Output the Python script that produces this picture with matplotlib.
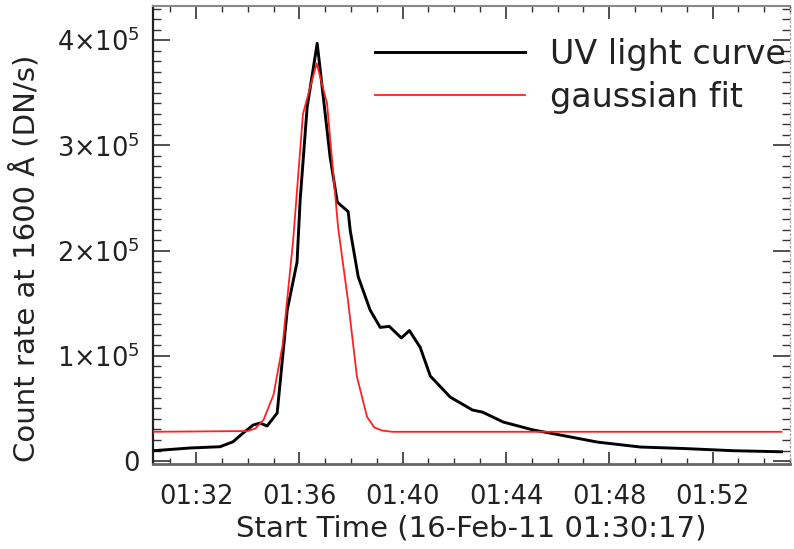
"""
UV 1600 A light curve with gaussian fit (IDL-style look)
"""
import numpy as np
import matplotlib
matplotlib.use("Agg")
import matplotlib.pyplot as plt
from matplotlib.ticker import MultipleLocator, FixedLocator

# minutes after 01:30:00 on 16-Feb-11
uv_time = [0.345, 1.77, 2.93, 3.43, 3.82, 4.21, 4.48, 4.75, 5.14, 5.53,
           5.91, 6.03, 6.30, 6.69, 7.19, 7.47, 7.89, 7.97, 8.28, 8.74,
           9.13, 9.48, 9.95, 10.26, 10.68, 11.07, 11.84, 12.70, 13.09, 13.90,
           15.06, 16.11, 17.54, 19.21, 20.88, 22.81, 24.67]
# count rate (DN/s)
uv_rate = [9.8e3, 12.4e3, 13.6e3, 18.3e3, 26.6e3, 34.2e3, 36.1e3, 33.3e3, 45.6e3, 143.5e3,
           189e3, 248e3, 336e3, 397e3, 289e3, 246e3, 237e3, 219e3, 175e3, 143.5e3,
           127e3, 128e3, 117e3, 124e3, 108e3, 80.8e3, 60.8e3, 48.5e3, 46.5e3, 37e3,
           29.5e3, 24.7e3, 18e3, 13.3e3, 11.9e3, 9.8e3, 8.8e3]

fit_time = [0.345, 4.0, 4.3, 4.61, 5.0, 5.35, 5.76, 6.14, 6.67, 7.07,
            7.50, 7.88, 8.23, 8.62, 8.9, 9.2, 9.6, 24.67]
fit_rate = [27.8e3, 28.5e3, 31e3, 39e3, 63e3, 110e3, 210e3, 330e3, 378e3, 340e3,
            222e3, 153e3, 80e3, 42e3, 32e3, 29e3, 27.8e3, 27.8e3]

xtick_pos = [2, 6, 10, 14, 18, 22]
xtick_labels = ['01:32', '01:36', '01:40', '01:44', '01:48', '01:52']
ytick_pos = [0, 1e5, 2e5, 3e5, 4e5]
ytick_labels = ['0', r'1$\times$10$^5$', r'2$\times$10$^5$', r'3$\times$10$^5$', r'4$\times$10$^5$']

plt.rcParams['font.family'] = ['DejaVu Sans']
plt.rcParams['mathtext.fontset'] = 'dejavusans'
txt = '#222222'

fig = plt.figure(figsize=(7.94, 5.49), dpi=100)
ax = fig.add_axes([0.1923, 0.1543, 0.995 - 0.1923, 0.9891 - 0.1543])

ax.plot(uv_time, uv_rate, color='black', lw=2.1, label='UV light curve', zorder=3)
ax.plot(fit_time, fit_rate, color='#ff2020', lw=1.3, label='gaussian fit', zorder=4)

ax.set_xlim(0.32, 25.0)
ax.set_ylim(-3.1e3, 432.5e3)

ax.xaxis.set_major_locator(FixedLocator(xtick_pos))
ax.set_xticklabels(xtick_labels)
ax.xaxis.set_minor_locator(MultipleLocator(1))
ax.yaxis.set_major_locator(FixedLocator(ytick_pos))
ax.set_yticklabels(ytick_labels)
ax.yaxis.set_minor_locator(MultipleLocator(1e4))

ax.tick_params(which='both', direction='in', top=True, right=True, colors='#333333')
ax.tick_params(axis='x', which='major', length=9, width=1.2, labelsize=18.5, pad=14, labelcolor=txt)
ax.tick_params(axis='x', which='minor', length=4.5, width=1.0)
ax.tick_params(axis='y', which='major', length=12, width=1.2, labelsize=18.5, pad=9, labelcolor=txt)
ax.tick_params(axis='y', which='minor', length=6, width=1.0)

ax.spines['left'].set_color('#222222')
ax.spines['left'].set_linewidth(1.6)
ax.spines['bottom'].set_color('#666666')
ax.spines['bottom'].set_linewidth(2.0)
ax.spines['top'].set_color('#888888')
ax.spines['top'].set_linewidth(1.5)
ax.spines['right'].set_color('#aaaaaa')
ax.spines['right'].set_linewidth(1.0)
ax.spines['right'].set_linestyle((0, (1, 2)))

ax.set_xlabel('Start Time (16-Feb-11 01:30:17)', fontsize=21, color=txt)
ax.xaxis.set_label_coords(0.5, -0.11)
ax.set_ylabel('Count rate at 1600 Å (DN/s)', fontsize=21, color=txt)
ax.yaxis.set_label_coords(-0.176, 0.45)

leg = ax.legend(loc='upper right', bbox_to_anchor=(0.993, 0.93), frameon=False,
                fontsize=24, handlelength=4.5, handletextpad=0.75, labelspacing=0.3,
                borderaxespad=0.0, borderpad=0.0)
for t in leg.get_texts():
    t.set_color(txt)

fig.savefig('out.png', dpi=100)
